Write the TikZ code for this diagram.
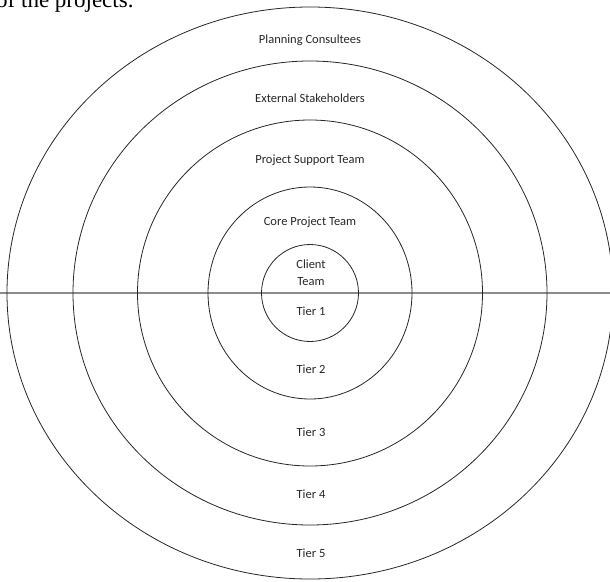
\documentclass[tikz,border=0pt]{standalone}
\usepackage{fontspec}
\setmainfont{Carlito}
\newfontfamily\serifcut{Liberation Serif}
\begin{document}
\begin{tikzpicture}[x=1pt,y=-1pt,
  ring/.style={draw=black!85, line width=0.8pt},
  divider/.style={draw=black!45, line width=1.6pt},
  lbl/.style={font=\fontsize{12.5}{14}\selectfont, text=black!85, inner sep=0pt, anchor=center}]
\useasboundingbox (0,0) rectangle (610,581);
\coordinate (c) at (310,293);
\coordinate (lineL) at (0,293);
\coordinate (lineR) at (610,293);
\draw[divider] (lineL) -- (lineR);
\draw[ring] (c) ellipse [x radius=303, y radius=286];
\draw[ring] (c) ellipse [x radius=237, y radius=232];
\draw[ring] (c) ellipse [x radius=172.5, y radius=173];
\draw[ring] (c) ellipse [x radius=102, y radius=106];
\draw[ring] (c) ellipse [x radius=48.5, y radius=48.5];
\node[anchor=base west, inner sep=0pt, font=\serifcut\fontsize{23}{25}\selectfont] (cut) at (-4,7) {of the projects.};
\node[lbl] (pc) at (310,40) {Planning Consultees};
\node[lbl] (es) at (310,98) {External Stakeholders};
\node[lbl] (pst) at (310,160) {Project Support Team};
\node[lbl] (cpt) at (310,222) {Core Project Team};
\node[lbl] (cl) at (311,264) {Client};
\node[lbl] (tm) at (311,282) {Team};
\node[lbl] (t1) at (311,311) {Tier 1};
\node[lbl] (t2) at (311,369) {Tier 2};
\node[lbl] (t3) at (311,432) {Tier 3};
\node[lbl] (t4) at (311,494) {Tier 4};
\node[lbl] (t5) at (311,553) {Tier 5};
\end{tikzpicture}
\end{document}
